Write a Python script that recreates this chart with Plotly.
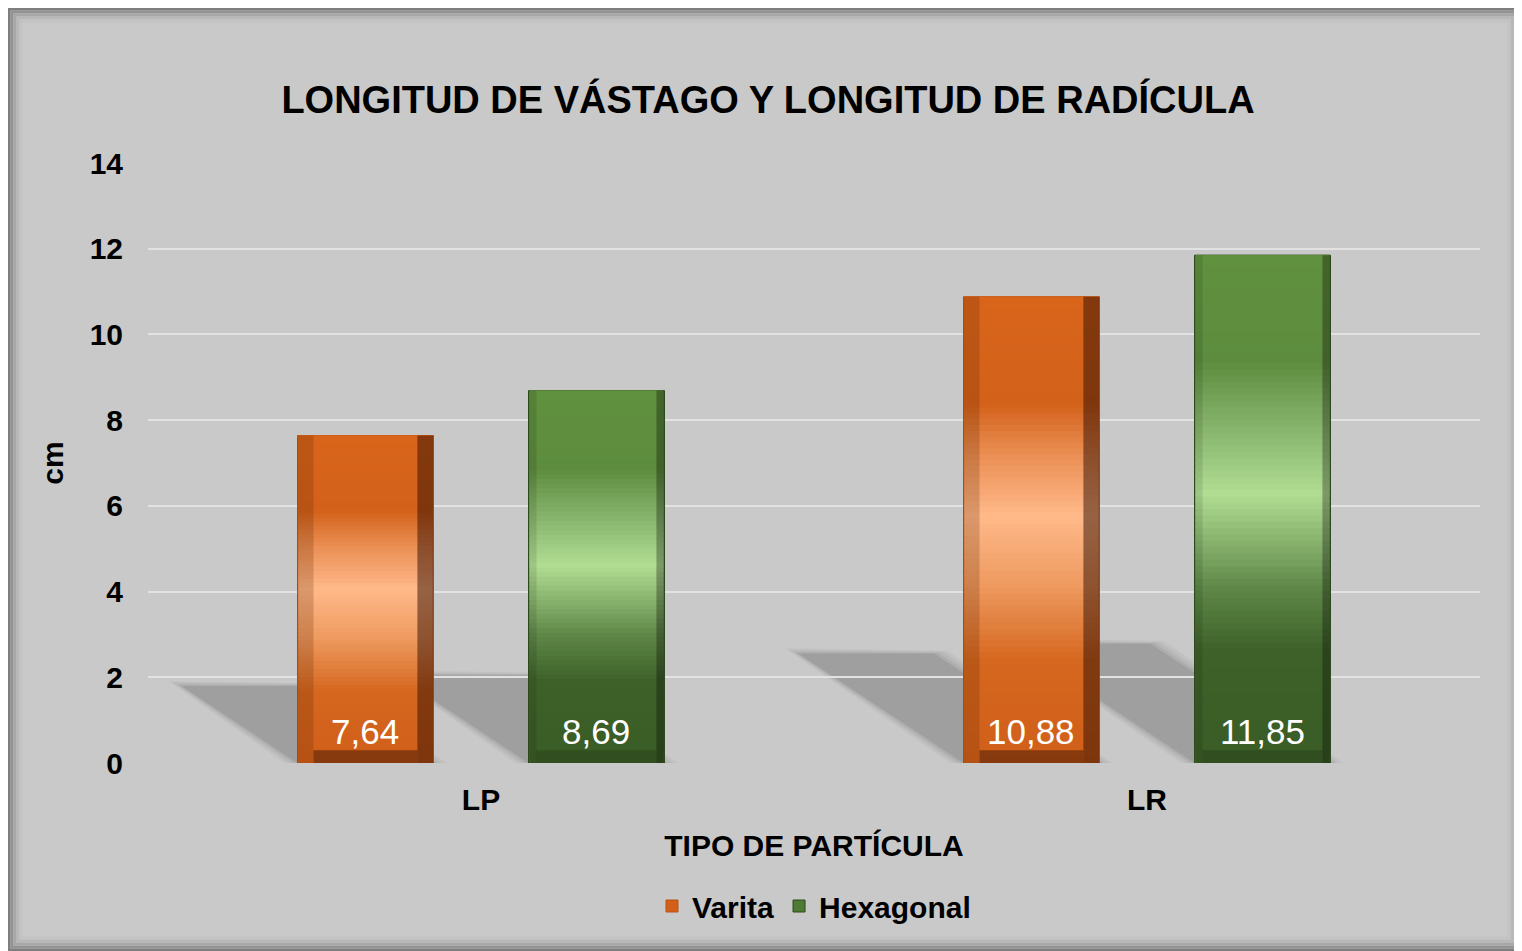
import plotly.graph_objects as go

CATEGORIES = ['LP', 'LR']
VARITA = [7.64, 10.88]
HEXAGONAL = [8.69, 11.85]
Y_TICKS = [0, 2, 4, 6, 8, 10, 12, 14]

TITLE = 'LONGITUD DE VÁSTAGO Y LONGITUD DE RADÍCULA'
X_TITLE = 'TIPO DE PARTÍCULA'
Y_TITLE = 'cm'

FONT = 'Liberation Sans, Arial, sans-serif'
BG = '#c9c9c9'
N_SEG = 80          # slices used to fake the vertical gradient of each bar
BAR_W = 0.204
SHADOW_K = 0.0228   # horizontal shadow shift per unit of value
SHADOW_S = 0.235    # shadow height per unit of value

# figure and plot area in pixels (page body adds an 8px margin)
W, H = 1514, 943
L, R, T, B = 140, 1472, 155, 755

STYLES = {
    'Varita': dict(offset=-0.2755, solid='#d2601a', line='#b85212', edge=0.024,
                   stops=[(0, '#d05f19'), (0.22, '#d5671f'), (0.38, '#ee9a60'),
                          (0.53, '#ffb98a'), (0.66, '#ea8f54'), (0.77, '#d3611a'),
                          (1, '#d9651b')],
                   left='rgba(90,35,0,0.22)', right='rgba(45,12,0,0.5)',
                   bottom='rgba(60,20,0,0.5)'),
    'Hexagonal': dict(offset=0.0714, solid='#4f7a34', line='#2c4a1b', edge=0.012,
                      stops=[(0, '#3a5c26'), (0.22, '#3e6129'), (0.34, '#5d8646'),
                             (0.53, '#b1dd93'), (0.66, '#87b46c'), (0.79, '#5d8c3e'),
                             (1, '#60913e')],
                      left='rgba(0,0,0,0.1)', right='rgba(0,0,0,0.3)',
                      bottom='rgba(0,0,0,0.15)'),
}


def hex_rgb(h):
    h = h.lstrip('#')
    return [int(h[i:i + 2], 16) for i in (0, 2, 4)]


def grad_color(stops, f):
    for (f0, c0), (f1, c1) in zip(stops[:-1], stops[1:]):
        if f0 <= f <= f1:
            t = (f - f0) / (f1 - f0)
            a, b = hex_rgb(c0), hex_rgb(c1)
            return 'rgb(%d,%d,%d)' % tuple(round(a[k] + (b[k] - a[k]) * t) for k in range(3))
    return stops[-1][1]


def px_x(p):
    return (p - L) / (R - L)


def px_y(p):
    return (B - p) / (B - T)


pos = list(range(len(CATEGORIES)))
fig = go.Figure()
shapes = []
annotations = []

# darker soft border round the chart area
for inset, col in [(1, '#7e7e7e'), (4, '#939393'), (7, '#a7a7a7'), (10, '#b8b8b8'), (13, '#c3c3c3')]:
    shapes.append(dict(type='rect', xref='paper', yref='paper', layer='below',
                       x0=px_x(inset), x1=px_x(W - inset),
                       y0=px_y(inset), y1=px_y(H - inset),
                       line=dict(color=col, width=3)))

for name, vals in [('Varita', VARITA), ('Hexagonal', HEXAGONAL)]:
    st = STYLES[name]
    off = st['offset']
    edge = st['edge']

    # soft cast shadows behind the bars
    for x, v in zip(pos, vals):
        x0 = x + off
        x1 = x0 + BAR_W
        dx, h = SHADOW_K * v, SHADOW_S * v
        for grow, op in [(0.02, 0.035), (0.013, 0.045), (0.006, 0.06), (0.0, 0.08)]:
            gy = grow * 6
            path = 'M %f,0 L %f,0 L %f,%f L %f,%f Z' % (
                x0 - grow, x1 + grow, x1 - dx + grow, h + gy - grow * 6 * 0.5,
                x0 - dx - grow, h + gy)
            shapes.append(dict(type='path', xref='x', yref='y', layer='below', path=path,
                               fillcolor='rgba(0,0,0,%f)' % op, line_width=0))

    # solid bar (carries the legend entry)
    fig.add_trace(go.Bar(x=pos, y=vals, name=name, width=BAR_W, offset=off,
                         marker=dict(color=st['solid'], line=dict(color=st['line'], width=1)),
                         hoverinfo='skip', legendgroup=name))

    # gradient slices, each overlapping the next one to hide seams
    for i in range(N_SEG):
        f = (i + 0.5) / N_SEG
        top = min(i + 2.5, N_SEG)
        fig.add_trace(go.Bar(x=pos, y=[v * (top - i) / N_SEG for v in vals],
                             base=[v * i / N_SEG for v in vals],
                             width=BAR_W - 0.003, offset=off + 0.0015,
                             marker=dict(color=grad_color(st['stops'], f), line_width=0),
                             showlegend=False, hoverinfo='skip', legendgroup=name))

    # bevel edges
    fig.add_trace(go.Bar(x=pos, y=vals, width=edge, offset=off,
                         marker=dict(color=st['left'], line_width=0),
                         showlegend=False, hoverinfo='skip'))
    fig.add_trace(go.Bar(x=pos, y=vals, width=edge, offset=off + BAR_W - edge,
                         marker=dict(color=st['right'], line_width=0),
                         showlegend=False, hoverinfo='skip'))
    fig.add_trace(go.Bar(x=pos, y=[0.3] * len(vals), width=BAR_W - 2 * edge, offset=off + edge,
                         marker=dict(color=st['bottom'], line_width=0),
                         showlegend=False, hoverinfo='skip'))

    # value labels
    for x, v in zip(pos, vals):
        annotations.append(dict(x=x + off + BAR_W / 2, y=0, xref='x', yref='y',
                                text=f'{v:.2f}'.replace('.', ','), showarrow=False,
                                yanchor='bottom', yshift=10,
                                font=dict(family=FONT, size=35, color='white')))

fig.update_layout(
    width=W, height=H,
    barmode='overlay',
    paper_bgcolor=BG, plot_bgcolor='rgba(0,0,0,0)',
    margin=dict(l=L, r=W - R, t=T, b=H - B, pad=0),
    font=dict(family=FONT, color='black'),
    title=dict(text=TITLE, xref='container', yref='container', x=760 / W, y=1 - 92 / H,
               xanchor='center', yanchor='middle',
               font=dict(family=FONT, size=38, weight='bold', color='black')),
    xaxis=dict(range=[-0.5, 1.5], tickvals=pos, ticktext=CATEGORIES, showgrid=False,
               zeroline=False, showline=False, ticks='', ticklabelstandoff=16,
               tickfont=dict(size=30, weight='bold'),
               title=dict(text=X_TITLE, standoff=19, font=dict(size=30, weight='bold'))),
    yaxis=dict(range=[0, 14], tickvals=Y_TICKS, showgrid=True, gridcolor='#e2e2e2',
               gridwidth=1.5, zeroline=False, showline=False, ticks='',
               ticklabelstandoff=24, tickfont=dict(size=30, weight='bold'),
               title=dict(text=Y_TITLE, standoff=17, font=dict(size=30, weight='bold'))),
    legend=dict(orientation='h', x=0.5, xanchor='center', y=-(898 - B) / (B - T),
                yanchor='middle', font=dict(size=30, weight='bold'),
                bgcolor='rgba(0,0,0,0)', itemwidth=30),
    shapes=shapes,
    annotations=annotations,
)

fig.write_html('out.html')
